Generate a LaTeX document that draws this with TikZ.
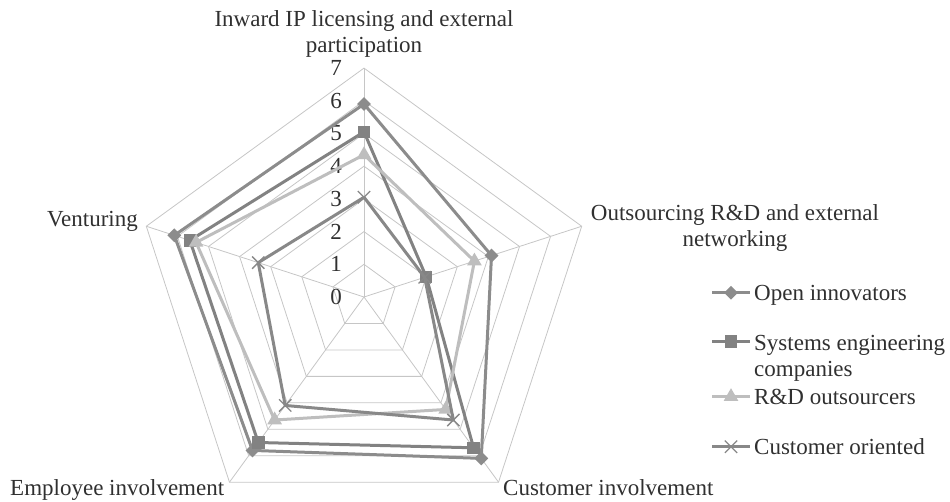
\documentclass[tikz,border=0pt]{standalone}
\usepackage{fontspec}
\setmainfont{Liberation Serif}
\usetikzlibrary{shapes.geometric,shapes.misc}
\definecolor{gridc}{HTML}{C6C6C6}
\definecolor{txtc}{HTML}{303030}
\definecolor{oicol}{HTML}{8C8C8C}
\definecolor{secol}{HTML}{828282}
\definecolor{rdcol}{HTML}{BEBEBE}
\definecolor{cocol}{HTML}{888888}
\def\rstep{32.7}
\tikzset{
  gridline/.style={draw=gridc, line width=0.8pt},
  series/.style={line width=3pt, line join=round},
  mkdia/.style={diamond, fill=#1, inner sep=0pt, minimum size=14pt},
  mksq/.style={rectangle, fill=#1, inner sep=0pt, minimum size=12.5pt},
  mktri/.style={regular polygon, regular polygon sides=3, fill=#1, inner sep=0pt, minimum size=17pt},
  mkx/.style={cross out, draw=#1, line width=1.3pt, inner sep=0pt, minimum size=11pt},
  lbl/.style={text=txtc, inner sep=0pt},
}
\begin{document}
\begin{tikzpicture}[x=1pt, y=1pt, font=\fontsize{23}{26.5}\selectfont]
\useasboundingbox (0,0) rectangle (950,501);

\begin{scope}[shift={(364,204)}]
  \coordinate (C) at (0,0);
  % axis ends
  \foreach \a [count=\i] in {90,18,-54,-126,162}
    \coordinate (ax\i) at (\a:{7*\rstep});
  % rings
  \foreach \k in {1,...,7}
    \draw[gridline] (90:{\k*\rstep}) -- (18:{\k*\rstep}) -- (-54:{\k*\rstep})
      -- (-126:{\k*\rstep}) -- (162:{\k*\rstep}) -- cycle;
  % spokes
  \foreach \i in {1,...,5}
    \draw[gridline] (C) -- (ax\i);
  % scale labels
  \foreach \k in {0,...,7}
    \node[lbl, anchor=east] (t\k) at (-22,{\k*\rstep}) {\k};

  % Open innovators
  \foreach \v [count=\i] in {5.9,4.1,6.1,5.8,6.1}
    \coordinate (oi\i) at ({162-72*\i}:{\v*\rstep});
  \draw[series, oicol] (oi1) -- (oi2) -- (oi3) -- (oi4) -- (oi5) -- cycle;
  \foreach \i in {1,...,5} \node[mkdia=oicol] (oim\i) at (oi\i) {};

  % Systems engineering companies
  \foreach \v [count=\i] in {5.05,2.0,5.7,5.5,5.6}
    \coordinate (se\i) at ({162-72*\i}:{\v*\rstep});
  \draw[series, secol] (se1) -- (se2) -- (se3) -- (se4) -- (se5) -- cycle;
  \foreach \i in {1,...,5} \node[mksq=secol] (sem\i) at (se\i) {};

  % R&D outsourcers
  \foreach \v [count=\i] in {4.35,3.55,4.25,4.65,5.4}
    \coordinate (rd\i) at ({162-72*\i}:{\v*\rstep});
  \draw[series, rdcol] (rd1) -- (rd2) -- (rd3) -- (rd4) -- (rd5) -- cycle;
  \foreach \i in {1,...,5} \node[mktri=rdcol] (rdm\i) at (rd\i) {};

  % Customer oriented
  \foreach \v [count=\i] in {3.05,1.95,4.65,4.1,3.4}
    \coordinate (co\i) at ({162-72*\i}:{\v*\rstep});
  \draw[series, cocol] (co1) -- (co2) -- (co3) -- (co4) -- (co5) -- cycle;
  \foreach \i in {1,...,5} \node[mkx=cocol] (com\i) at (co\i) {};
\end{scope}

% category labels (base anchor sits on the last line)
\node[lbl, anchor=base, align=center] (catA) at (364,448)
  {Inward IP licensing and external\\participation};
\node[lbl, anchor=base, align=center] (catB) at (735,254)
  {Outsourcing R\&D and external\\networking};
\node[lbl, anchor=base east] (catE) at (138,274) {Venturing};
\node[lbl, anchor=base west] (catD) at (10,6) {Employee involvement};
\node[lbl, anchor=base west] (catC) at (503,6) {Customer involvement};

% legend
\coordinate (l1a) at (712,208.3); \coordinate (l1b) at (750,208.3); \coordinate (l1m) at (731,208.3);
\coordinate (l2a) at (712,159.3); \coordinate (l2b) at (750,159.3); \coordinate (l2m) at (731,159.3);
\coordinate (l3a) at (712,104.3); \coordinate (l3b) at (750,104.3); \coordinate (l3m) at (731,104.3);
\coordinate (l4a) at (712,54.3);  \coordinate (l4b) at (750,54.3);  \coordinate (l4m) at (731,54.3);
\draw[series, oicol] (l1a) -- (l1b); \node[mkdia=oicol] (k1) at (l1m) {};
\draw[series, secol] (l2a) -- (l2b); \node[mksq=secol] (k2) at (l2m) {};
\draw[series, rdcol] (l3a) -- (l3b); \node[mktri=rdcol] (k3) at (l3m) {};
\draw[series, cocol] (l4a) -- (l4b); \node[mkx=cocol] (k4) at (l4m) {};
\node[lbl, anchor=base west] (g1) at (754,200.8) {Open innovators};
\node[lbl, anchor=base west, align=left] (g2) at (754,124.3) {Systems engineering\\companies};
\node[lbl, anchor=base west] (g3) at (754,96.3) {R\&D outsourcers};
\node[lbl, anchor=base west] (g4) at (754,46.3) {Customer oriented};
\end{tikzpicture}
\end{document}
